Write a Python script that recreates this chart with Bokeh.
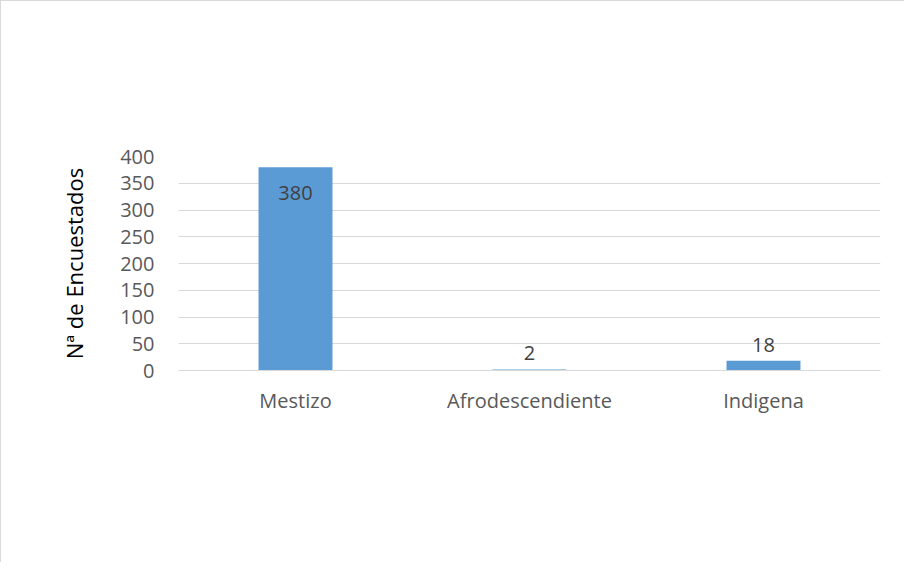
from bokeh.plotting import figure
from bokeh.models import ColumnDataSource, Range1d
from bokeh.core.properties import value
from bokeh.embed import file_html
from bokeh.resources import INLINE

categories = ["Mestizo", "Afrodescendiente", "Indigena"]
counts = [380, 2, 18]
y_ticks = [0, 50, 100, 150, 200, 250, 300, 350, 400]

FONT = "Open Sans"
BAR = "#5B9BD5"
GRID = "#D9D9D9"
TXT = "#595959"

p = figure(x_range=categories, width=904, height=562, output_backend="svg",
           toolbar_location=None, min_border_left=177, min_border_right=25,
           min_border_top=155, min_border_bottom=193)
p.y_range = Range1d(0, 400)

src = ColumnDataSource(dict(cat=categories, val=counts, lab=[str(v) for v in counts]))
p.vbar(x="cat", top="val", width=0.316, source=src, fill_color=BAR, line_color=None)

mx = max(counts)
inside = [i for i, v in enumerate(counts) if v > mx * 0.5]
outside = [i for i, v in enumerate(counts) if v <= mx * 0.5]
src_in = ColumnDataSource(dict(cat=[categories[i] for i in inside], val=[counts[i] for i in inside],
                               lab=[str(counts[i]) for i in inside]))
src_out = ColumnDataSource(dict(cat=[categories[i] for i in outside], val=[counts[i] for i in outside],
                                lab=[str(counts[i]) for i in outside]))
p.text(x="cat", y="val", text="lab", source=src_in, text_align="center", text_baseline="top",
       y_offset=19, text_font=value(FONT), text_font_size="20px", text_color="#404040")
p.text(x="cat", y="val", text="lab", source=src_out, text_align="center", text_baseline="bottom",
       y_offset=-9, text_font=value(FONT), text_font_size="20px", text_color="#404040")

p.yaxis.ticker = y_ticks
p.yaxis.axis_label = "Nª de Encuestados"
p.yaxis.axis_label_text_font = FONT
p.yaxis.axis_label_text_font_size = "22px"
p.yaxis.axis_label_text_font_style = "normal"
p.yaxis.axis_label_text_color = "#000000"
p.yaxis.axis_label_standoff = 28
p.yaxis.axis_line_color = None
p.yaxis.major_tick_line_color = None
p.yaxis.minor_tick_line_color = None
p.yaxis.major_label_text_font = FONT
p.yaxis.major_label_text_font_size = "20px"
p.yaxis.major_label_text_color = TXT
p.yaxis.major_label_standoff = 18

p.xaxis.axis_line_color = GRID
p.xaxis.major_tick_line_color = None
p.xaxis.minor_tick_line_color = None
p.xaxis.major_label_text_font = FONT
p.xaxis.major_label_text_font_size = "20px"
p.xaxis.major_label_text_color = TXT
p.xaxis.major_label_standoff = 10

p.xgrid.grid_line_color = None
p.ygrid.grid_line_color = GRID
p.ygrid.grid_line_width = 1
p.outline_line_color = None
p.background_fill_color = "white"
p.border_fill_color = "white"
p.styles = {"border-left": "1px solid #D9D9D9", "border-top": "1px solid #D9D9D9"}

open("out.html", "w").write(file_html(p, INLINE))
